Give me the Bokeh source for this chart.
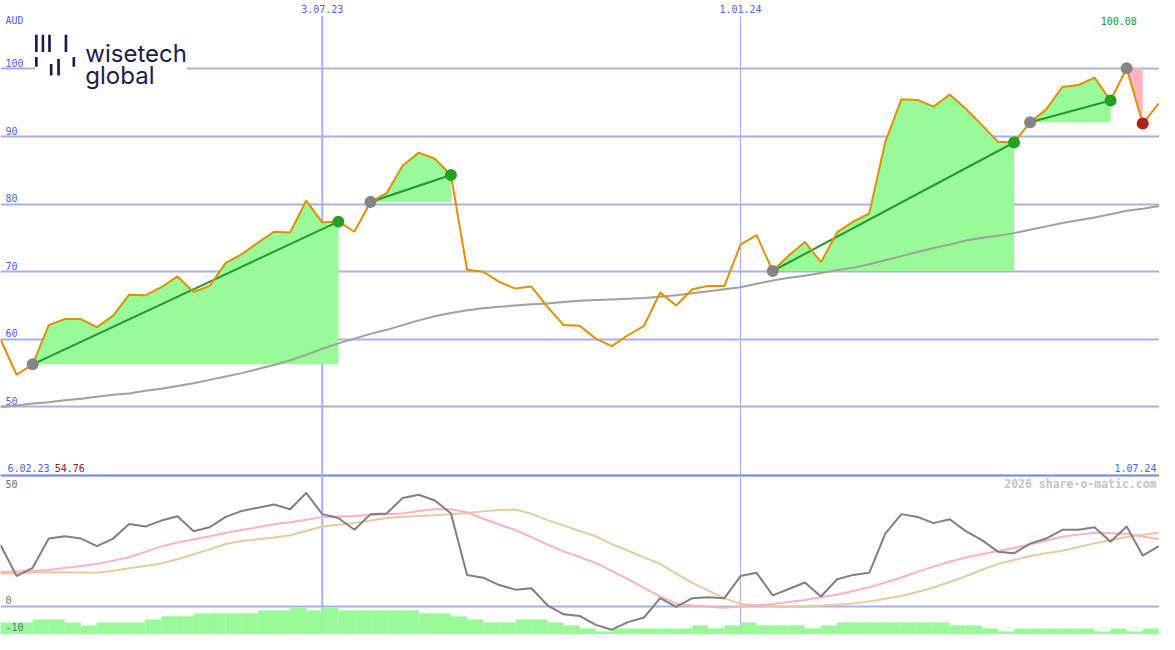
from bokeh.plotting import figure
from bokeh.models import Range1d
from bokeh.core.properties import value
from bokeh.embed import file_html
from bokeh.resources import INLINE

# ---------------- data (weekly, index 0 = week of 13.02.23) ----------------
price = [60.0, 54.76, 56.3, 62.1, 63.0, 63.0, 61.8, 63.5, 66.6, 66.5,
         67.7, 69.3, 67.0, 67.9, 71.3, 72.6, 74.3, 75.9, 75.8, 80.5,
         77.3, 77.4, 75.9, 80.3, 81.6, 85.7, 87.6, 86.7, 84.3, 70.3,
         70.0, 68.5, 67.5, 67.8, 64.8, 62.1, 62.0, 60.1, 59.0, 60.6,
         62.0, 66.9, 65.0, 67.4, 67.9, 67.9, 74.0, 75.4, 70.1, 72.4,
         74.4, 71.4, 75.8, 77.4, 78.6, 89.2, 95.5, 95.4, 94.4, 96.2,
         94.1, 91.7, 89.2, 89.1, 92.1, 94.0, 97.3, 97.6, 98.7, 95.3,
         100.08, 91.9, 94.9]

price_ma = [50.0, 50.2, 50.5, 50.7, 51.0, 51.2, 51.5, 51.8, 52.0, 52.4,
            52.7, 53.1, 53.5, 54.0, 54.5, 55.0, 55.6, 56.2, 56.9, 57.7,
            58.6, 59.4, 60.1, 60.8, 61.4, 62.1, 62.8, 63.4, 63.9, 64.3,
            64.6, 64.8, 65.0, 65.2, 65.3, 65.5, 65.7, 65.8, 65.9, 66.0,
            66.1, 66.3, 66.5, 66.8, 67.1, 67.4, 67.7, 68.2, 68.7, 69.1,
            69.4, 69.8, 70.2, 70.6, 71.1, 71.7, 72.3, 72.9, 73.5, 74.0,
            74.6, 75.0, 75.3, 75.7, 76.2, 76.7, 77.2, 77.6, 78.0, 78.5,
            79.0, 79.3, 79.7]

osc = [26.6, 13.1, 16.7, 29.4, 30.4, 29.4, 26.1, 29.4, 35.7, 34.6,
       37.2, 39.1, 32.6, 34.3, 38.8, 41.4, 42.8, 44.2, 42.1, 49.2,
       40.0, 38.3, 33.2, 40.0, 40.3, 47.0, 48.4, 45.9, 40.3, 13.6,
       12.4, 9.2, 7.2, 7.8, 0.4, -3.5, -4.2, -8.1, -10.2, -6.9,
       -4.9, 3.5, -0.3, 3.5, 3.9, 3.5, 13.1, 14.5, 4.7, 7.5,
       10.3, 4.2, 11.7, 13.6, 14.5, 31.5, 40.0, 38.8, 36.1, 37.8,
       32.6, 28.7, 23.7, 23.0, 27.2, 29.4, 33.2, 33.2, 34.3, 28.0,
       34.6, 22.0, 26.1]

osc_fast = [14.8, 15.1, 15.4, 15.7, 16.6, 17.5, 18.4, 19.8, 21.3, 23.6,
            26.0, 27.7, 29.0, 30.4, 31.8, 33.1, 34.3, 35.6, 36.5, 37.6,
            38.7, 39.0, 39.2, 39.6, 40.0, 40.3, 41.4, 42.1, 42.1, 40.8,
            38.0, 35.5, 33.1, 30.0, 26.8, 23.8, 21.4, 18.8, 15.3, 11.8,
            8.0, 4.3, 1.1, 0.3, -0.2, -0.7, -0.1, 0.4, 0.9, 1.8,
            2.7, 3.9, 5.0, 6.6, 8.2, 10.3, 12.5, 14.9, 17.2, 19.3,
            21.2, 22.6, 24.0, 25.3, 26.8, 28.5, 30.2, 31.1, 31.9, 31.7,
            31.5, 30.3, 29.1]

osc_slow = [14.1, 14.3, 14.6, 14.8, 14.7, 14.6, 14.5, 15.4, 16.5, 17.5,
            18.6, 20.4, 22.5, 24.7, 27.0, 28.3, 29.1, 29.9, 30.8, 32.7,
            34.6, 35.4, 36.2, 37.2, 38.3, 38.9, 39.2, 39.5, 39.9, 40.5,
            41.2, 41.8, 42.0, 40.1, 37.4, 35.1, 32.7, 30.4, 27.0, 24.1,
            21.2, 18.4, 14.2, 10.1, 6.8, 3.4, 1.0, 0.4, -0.1, -0.2,
            -0.2, 0.2, 0.6, 1.2, 2.1, 3.2, 4.4, 6.2, 8.1, 10.5,
            13.0, 15.8, 18.4, 20.1, 21.8, 23.0, 24.1, 25.7, 27.3, 28.7,
            30.1, 31.0, 31.9]

volume = [4, 4, 5, 5, 4, 3, 4, 4, 4, 5,
          6, 6, 7, 7, 7, 7, 8, 8, 9, 8,
          9, 8, 8, 8, 8, 8, 7, 7, 6, 5,
          4, 4, 5, 5, 4, 3, 2, 1, 2, 2,
          2, 2, 2, 3, 2, 3, 4, 3, 3, 3,
          2, 3, 4, 4, 4, 4, 4, 4, 4, 3,
          3, 2, 1, 2, 2, 2, 2, 2, 1, 2,
          1, 2, 2]

# trend segments: (start week, end week, direction)
segments = [(2, 21, "up"), (23, 28, "up"), (48, 63, "up"), (64, 69, "up"), (70, 71, "down")]

price_ticks = [50, 60, 70, 80, 90, 100]
date_labels = ["3.07.23", "1.01.24"]
date_idx = [20, 46]
first_label, last_label = "6.02.23", "1.07.24"
low_label, high_label = "54.76", "100.08"
osc_ticks = ["50", "0", "-10"]
osc_tick_vals = [53.0, 2.5, -8.9]

idx = list(range(len(price)))

# ---------------- geometry ----------------
W, H = 1159, 634
REF_W, REF_H = 1175, 650
PXW = 16.31             # reference px per week
PPU = 6.934             # reference px per price unit
OPU = 2.36              # reference px per oscillator unit
x_end = REF_W / PXW
price_top = 100 + 70 / PPU
price_bot = 50 - (REF_H - 416.7) / PPU
osc_top = 621 / OPU
osc_bot = -(REF_H - 621) / OPU


def fx(px):
    return px / PXW


def fp(py):
    return price_top - py / PPU


def fo(py):
    return (621 - py) / OPU


BG = "#fdfefd"
GRID = "#a7b0ee"
SEP = "#7683e6"
BLUE = "#4f5ff0"
FILL_UP = "#98fb98"
FILL_DN = "#ffb6c1"
MONO = "DejaVu Sans Mono"

p = figure(width=W, height=H, x_range=Range1d(0, x_end),
           y_range=Range1d(price_bot, price_top),
           x_axis_type=None, y_axis_type=None, toolbar_location=None,
           output_backend="svg", min_border=0, outline_line_color=None,
           background_fill_color=BG, border_fill_color=BG)
p.extra_y_ranges = {"osc": Range1d(osc_bot, osc_top),
                    "vol": Range1d(0, REF_H / 3.1)}

# grid lines
p.hspan(y=price_ticks, line_color=GRID, line_width=2)
p.hspan(y=[0], line_color=GRID, line_width=2, y_range_name="osc")
p.hspan(y=[fo(487)], line_color=SEP, line_width=2, y_range_name="osc")
p.segment(x0=[date_idx[0]], y0=[fp(16)], x1=[date_idx[0]], y1=[price_bot],
          line_color=GRID, line_width=2)
p.segment(x0=[date_idx[1]], y0=[fp(16)], x1=[date_idx[1]], y1=[price_bot],
          line_color=GRID, line_width=1)

# volume
p.quad(left=idx, right=[i + 1 for i in idx], bottom=0, top=volume,
       fill_color=FILL_UP, line_color=None, y_range_name="vol")

# trend fills
for s, e, d in segments:
    xs = idx[s:e + 1]
    base = [price[s]] * len(xs)
    p.varea(x=xs, y1=base, y2=price[s:e + 1],
            fill_color=FILL_UP if d == "up" else FILL_DN)

# moving average
p.line(idx, price_ma, line_color="#a0a0a0", line_width=2)

# trend lines
for s, e, d in segments:
    if d == "up":
        p.line([s, e], [price[s], price[e]], line_color="#22992a", line_width=2)

# price
p.line(idx, price, line_color="#e09000", line_width=2)

# dots
p.scatter([s for s, e, d in segments], [price[s] for s, e, d in segments],
          size=12, fill_color="#858585", line_color=None)
p.scatter([e for s, e, d in segments], [price[e] for s, e, d in segments],
          size=12, line_color=None,
          fill_color=["#22a022" if d == "up" else "#b02020" for s, e, d in segments])

# oscillator
p.line(idx, osc_slow, line_color="#e6cc9c", line_width=2, y_range_name="osc")
p.line(idx, osc_fast, line_color="#ffb0c4", line_width=2, y_range_name="osc")
p.line(idx, osc, line_color="#808080", line_width=2, y_range_name="osc")

# logo
NAVY = "#1c1c4c"
p.quad(left=[fx(35)], right=[fx(189)], top=[fp(30)], bottom=[fp(86)],
       fill_color=BG, line_color=None)
bars_l = [35, 41.7, 48.3, 65, 35, 50, 57.5, 73]
bars_r = [37.7, 44.3, 51, 67.7, 37.7, 52.7, 60.2, 75.7]
bars_t = [35, 35, 35, 35, 58, 65, 60, 58]
bars_b = [52.7, 52.7, 52.7, 52.7, 68, 77, 77, 68]
p.quad(left=[fx(v) for v in bars_l], right=[fx(v) for v in bars_r],
       top=[fp(v) for v in bars_t], bottom=[fp(v) for v in bars_b],
       fill_color=NAVY, line_color=None)
p.text(x=[fx(86), fx(86)], y=[fp(54), fp(76.5)], text=["wisetech", "global"],
       text_color=NAVY, text_font=value("Inter"), text_font_size="24px",
       text_font_style="normal", text_baseline="alphabetic", text_align="left")


def label(x, y, txt, color, align="left", size="10px", bold=False, rng="default"):
    p.text(x=[x], y=[y], text=[txt], text_color=color, text_align=align,
           text_baseline="middle", text_font=value(MONO), text_font_size=size,
           text_font_style="bold" if bold else "normal", y_range_name=rng)


label(fx(5), fp(21), "AUD", BLUE)
for t in price_ticks:
    label(fx(5), t + 6 / PPU, str(t), BLUE)
for d, i in zip(date_labels, date_idx):
    label(i, fp(9), d, BLUE, align="center")
label(fx(1152), fp(21), high_label, "#229922", align="right")
label(fx(7), fo(479), first_label, BLUE, rng="osc")
label(fx(55), fo(479), low_label, "#a01818", rng="osc")
label(fx(1172), fo(479), last_label, BLUE, align="right", rng="osc")
label(fx(1172), fo(496), "2026 share-o-matic.com", "#c4c4c4", align="right",
      size="11.5px", bold=True, rng="osc")
for t, v in zip(osc_ticks, osc_tick_vals):
    label(fx(5), v, t, "#707070", rng="osc")

open("out.html", "w").write(file_html(p, INLINE))
